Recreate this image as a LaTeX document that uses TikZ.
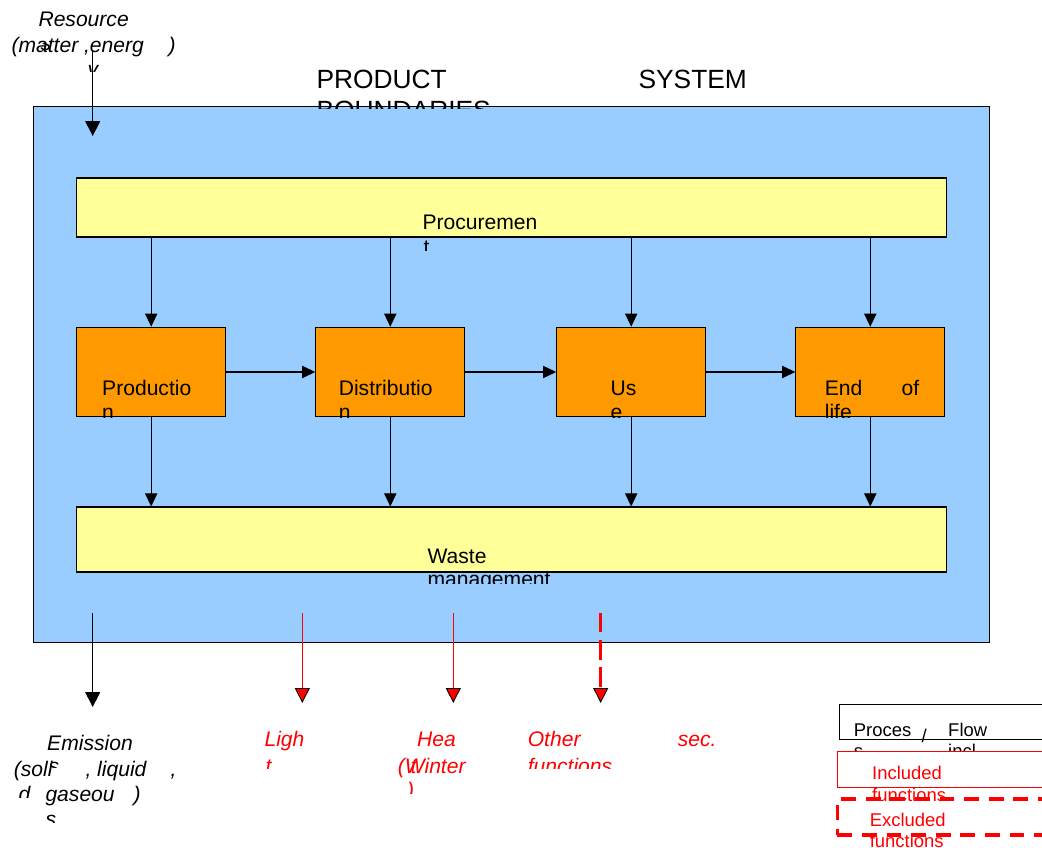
\documentclass[tikz,border=0pt]{standalone}
\usepackage{fontspec}
\setmainfont{Liberation Sans}
\usetikzlibrary{arrows.meta}
\definecolor{sysblue}{HTML}{99CCFF}
\definecolor{baryellow}{HTML}{FFFF99}
\definecolor{stageorange}{HTML}{FF9900}

\begin{document}
\begin{tikzpicture}[x=0.02cm, y=-0.02cm, line width=0.6pt,
	bar/.style={draw, fill=baryellow, minimum width=17.42cm, inner sep=0pt},
	stage/.style={draw, fill=stageorange, minimum width=2.98cm, minimum height=1.79cm, inner sep=0pt},
	txt/.style={anchor=base west, inner sep=0pt, font=\fontsize{12}{14}\selectfont},
	itxt/.style={txt, font=\fontsize{12}{14}\selectfont\itshape},
	rtxt/.style={itxt, text=red},
	ltxt/.style={anchor=base west, inner sep=0pt, font=\fontsize{10.5}{12}\selectfont},
	flow/.style={-{Triangle[length=7.5pt,width=7pt]}},
	outflow/.style={-{Triangle[length=8.5pt,width=8.5pt]}},
	fnflow/.style={draw=red, -{Triangle[length=8.5pt,width=8.5pt,line width=0.5pt,color=black,fill=red]}}]
				\useasboundingbox (0,0) rectangle (1042,848);
				% System box and stages:
				\node[draw, fill=sysblue, minimum width=19.14cm, minimum height=10.74cm, inner sep=0pt] (sys) at (511.5,374.5) {};
				\node[bar, minimum height=1.18cm] (proc) at (511.5,207.5) {};
				\node[bar, minimum height=1.3cm] (waste) at (511.5,539.5) {};
				\node[stage] (prod) at (151.2,372) {};
				\node[stage] (dist) at (390.3,372) {};
				\node[stage] (use) at (631.2,372) {};
				\node[stage] (eol) at (870.3,372) {};
				% Title:
				\node[txt, font=\fontsize{15}{18}\selectfont] (titlea) at (316,89) {PRODUCT};
				\node[txt, font=\fontsize{15}{18}\selectfont] (titleb) at (638,89) {SYSTEM};
				\begin{scope}
					\clip (300,90) rectangle (520,109);
					\node[txt, font=\fontsize{15}{18}\selectfont] (titlec) at (316,120) {BOUNDARIES};
				\end{scope}
				% Box texts:
				\begin{scope}
					\clip (400,200) rectangle (560,250);
					\node[txt] (proca) at (422,230) {Procuremen};
					\node[txt] (procb) at (423,255) {t};
				\end{scope}
				\begin{scope}
					\clip (400,540) rectangle (600,583.5);
					\node[txt] (wastea) at (427,563) {Waste};
					\node[txt] (wasteb) at (427,586) {management};
				\end{scope}
				\begin{scope}
					\clip (prod.north west) rectangle (prod.south east);
					\node[txt] (proda) at (101.7,395) {Productio};
					\node[txt] (prodb) at (101.7,419) {n};
				\end{scope}
				\begin{scope}
					\clip (dist.north west) rectangle (dist.south east);
					\node[txt] (dista) at (338.3,395) {Distributio};
					\node[txt] (distb) at (338.3,419) {n};
				\end{scope}
				\begin{scope}
					\clip (use.north west) rectangle (use.south east);
					\node[txt] (usea) at (610,395) {Us};
					\node[txt] (useb) at (610,419) {e};
				\end{scope}
				\begin{scope}
					\clip (eol.north west) rectangle (eol.south east);
					\node[txt] (eola) at (824.3,395) {End};
					\node[txt] (eolb) at (901,395) {of};
					\node[txt] (eolc) at (824.3,419) {life};
				\end{scope}
				% Flows inside the system:
				\draw[flow] (proc.south -| prod.north) -- (prod.north);
				\draw[flow] (proc.south -| dist.north) -- (dist.north);
				\draw[flow] (proc.south -| use.north) -- (use.north);
				\draw[flow] (proc.south -| eol.north) -- (eol.north);
				\draw[flow] (prod.east) -- (dist.west);
				\draw[flow] (dist.east) -- (use.west);
				\draw[flow] (use.east) -- (eol.west);
				\draw[flow] (prod.south) -- (waste.north -| prod.south);
				\draw[flow] (dist.south) -- (waste.north -| dist.south);
				\draw[flow] (use.south) -- (waste.north -| use.south);
				\draw[flow] (eol.south) -- (waste.north -| eol.south);
				% Resource in:
				\node[itxt] (resa) at (38,27) {Resource};
				\node[itxt] (resb) at (11,53) {(matter ,energ};
				\node[itxt] (resc) at (168,53) {)};
				\begin{scope}
					\clip (30,44) rectangle (60,60);
					\node[itxt] (ress) at (40,51) {s};
				\end{scope}
				\begin{scope}
					\clip (80,58) rectangle (110,72);
					\node[itxt] (resy) at (87,77) {y};
				\end{scope}
				\coordinate (resfrom) at (92.7,50);
				\coordinate (resto) at (92.7,136);
				\draw[outflow] (resfrom) -- (resto);
				% Flows out:
				\coordinate (emfrom) at (92.7,613);
				\coordinate (emto) at (92.7,707);
				\draw[outflow] (emfrom) -- (emto);
				\coordinate (lightfrom) at (302.3,613);
				\coordinate (lightto) at (302.3,703);
				\draw[fnflow] (lightfrom) -- (lightto);
				\coordinate (heatfrom) at (453.3,613);
				\coordinate (heatto) at (453.3,703);
				\draw[fnflow] (heatfrom) -- (heatto);
				\coordinate (otherfrom) at (600.7,613);
				\coordinate (otherto) at (600.7,703);
				\draw[fnflow, line width=2pt, dash pattern=on 11pt off 4.5pt] (otherfrom) -- (otherto);
				% Emissions:
				\node[itxt] (ema) at (46.7,750) {Emission};
				\node[itxt] (emb) at (13.3,776) {(soli};
				\node[itxt] (emc) at (85,776) {, liquid};
				\node[itxt] (emd) at (170,776) {,};
				\begin{scope}
					\clip (40,755) rectangle (70,767);
					\node[itxt] (ems) at (48,773) {s};
				\end{scope}
				\begin{scope}
					\clip (10,780) rectangle (40,797);
					\node[itxt] (emdd) at (18,801) {d};
				\end{scope}
				\node[itxt] (eme) at (45,801) {gaseou};
				\node[itxt] (emf) at (133,801) {)};
				\begin{scope}
					\clip (35,805) rectangle (60,822);
					\node[itxt] (emg) at (45,826) {s};
				\end{scope}
				% Functions:
				\node[rtxt] (lighta) at (264,746.7) {Ligh};
				\begin{scope}
					\clip (255,750) rectangle (290,768);
					\node[rtxt] (lightb) at (265,773) {t};
				\end{scope}
				\node[rtxt] (heata) at (416.7,746.7) {Hea};
				\node[rtxt] (heatb) at (397.3,773) {(Winter};
				\node[rtxt] (heatc) at (410,773) {t};
				\begin{scope}
					\clip (395,778) rectangle (430,793);
					\node[rtxt] (heatd) at (406.7,797) {)};
				\end{scope}
				\node[rtxt] (othera) at (527.3,746.7) {Other};
				\node[rtxt] (otherb) at (677.3,746.7) {sec.};
				\begin{scope}
					\clip (520,750) rectangle (640,768);
					\node[rtxt] (otherc) at (527.3,773) {functions};
				\end{scope}
				% Legend:
				\node[draw, minimum width=5.2cm, minimum height=0.706cm, inner sep=0pt] (legflow) at (969.3,721.7) {};
				\node[ltxt] (legfa) at (853.3,736) {Proces};
				\node[ltxt] (legfb) at (921,742) {/};
				\node[ltxt] (legfc) at (947.7,736) {Flow};
				\begin{scope}
					\clip (840,740) rectangle (1042,751);
					\node[ltxt] (legfd) at (853.3,757.6) {s};
					\node[ltxt] (legfe) at (947.7,757.6) {incl};
				\end{scope}
				\node[draw=red, minimum width=5.24cm, minimum height=0.712cm, inner sep=0pt] (legin) at (968.3,769.5) {};
				\node[ltxt, text=red] (legia) at (871.7,779.3) {Included};
				\begin{scope}
					\clip (860,785) rectangle (1042,800);
					\node[ltxt, text=red] (legib) at (871.7,801) {functions};
				\end{scope}
				\node[draw=red, line width=1.9pt, dash pattern=on 8.5pt off 5.5pt, minimum width=5.24cm, minimum height=0.72cm, inner sep=0pt] (legex) at (968.3,817) {};
				\node[ltxt, text=red] (legea) at (869.3,826.7) {Excluded};
				\node[ltxt, text=red] (legeb) at (869.3,847.5) {functions};
			\end{tikzpicture}
\end{document}
